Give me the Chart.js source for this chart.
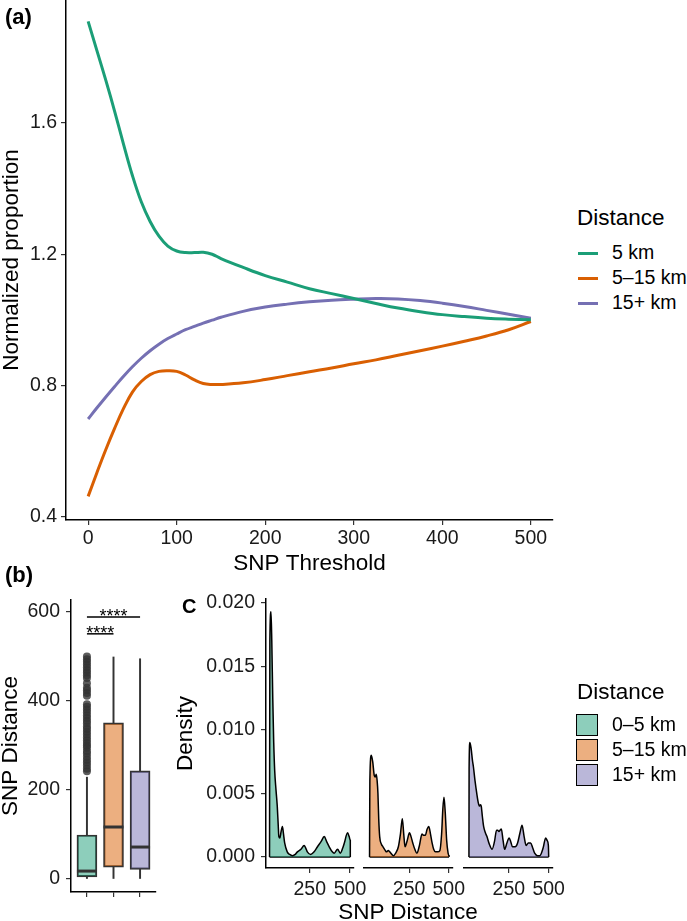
<!DOCTYPE html>
<html>
<head>
<meta charset="utf-8">
<script src="https://cdn.jsdelivr.net/npm/chart.js@4.4.1/dist/chart.umd.min.js"></script>
<style>
  body { margin: 0; background: #fff; overflow: hidden; font-family: "Liberation Sans", Arial, sans-serif; }
  #wrap { position: relative; width: 687px; height: 921px; overflow: hidden; background: #fff; }
  canvas { position: absolute; }
  .tag { position: absolute; font-weight: bold; font-size: 22px; line-height: 1; color: #000; }
  .txt { position: absolute; color: #000; white-space: nowrap; line-height: 1; }
</style>
</head>
<body>
<div id="wrap">
  <canvas id="chartA" width="560" height="580" style="left:0;top:0"></canvas>
  <canvas id="chartB" width="180" height="336" style="left:0;top:585px"></canvas>
  <canvas id="facet1" width="512" height="345" style="left:175px;top:585px"></canvas>
  <canvas id="facet2" width="512" height="345" style="left:175px;top:585px"></canvas>
  <canvas id="facet3" width="512" height="345" style="left:175px;top:585px"></canvas>
  <div class="tag" style="left:5px;top:6px">(a)</div>
  <div class="tag" style="left:5px;top:564px">(b)</div>
  <div class="tag" style="left:182px;top:596px;font-size:20px">C</div>
</div>
<script>
// ---- panel (a): normalized proportion vs SNP threshold ----
const thresholds = [0, 10, 20, 30, 40, 50, 60, 70, 80, 90, 100, 110, 120, 130, 140, 150, 175, 200, 225, 250, 275, 300, 325, 350, 375, 400, 425, 450, 475, 500];
const within5 = [1.91, 1.82, 1.73, 1.635, 1.535, 1.44, 1.36, 1.30, 1.255, 1.225, 1.21, 1.205, 1.205, 1.206, 1.20, 1.187, 1.16, 1.135, 1.115, 1.095, 1.08, 1.065, 1.05, 1.036, 1.025, 1.016, 1.01, 1.005, 1.002, 1.0];
const from5to15 = [0.462, 0.535, 0.605, 0.67, 0.73, 0.78, 0.812, 0.833, 0.843, 0.845, 0.843, 0.832, 0.817, 0.806, 0.803, 0.803, 0.808, 0.818, 0.83, 0.842, 0.853, 0.866, 0.878, 0.892, 0.906, 0.92, 0.935, 0.951, 0.97, 0.995];
const beyond15 = [0.698, 0.732, 0.765, 0.797, 0.828, 0.857, 0.883, 0.906, 0.926, 0.943, 0.957, 0.97, 0.98, 0.99, 0.999, 1.008, 1.026, 1.039, 1.048, 1.055, 1.06, 1.063, 1.065, 1.064, 1.059, 1.051, 1.041, 1.029, 1.017, 1.005];
const lineNames = ['5 km', '5–15 km', '15+ km'];
const lineColors = ['#1b9e77', '#d95f02', '#7570b3'];
const thresholdTicks = [0, 100, 200, 300, 400, 500];
const proportionTicks = [0.4, 0.8, 1.2, 1.6];

// ---- panel (b): SNP distance box plots ----
const groupNames = ['0–5 km', '5–15 km', '15+ km'];
const fillColors = ['rgba(27,158,119,0.5)', 'rgba(217,95,2,0.5)', 'rgba(117,112,179,0.5)'];
const boxMin = [0, 0, 0];
const boxQ1 = [5, 27, 22];
const boxMedian = [18, 117, 72];
const boxQ3 = [99, 351, 243];
const boxMax = [229, 499, 495];
const outliersNear = [242, 248, 255, 262, 268, 275, 282, 288, 295, 300, 306, 312, 318, 325, 331, 337, 343, 350, 356, 362, 368, 375, 381, 387, 393, 412, 418, 424, 430, 440, 452, 458, 464, 470, 476, 482, 488, 494, 500];
const snpTicks = [0, 200, 400, 600];
const sigFrom = [1, 1];
const sigTo = [2, 3];
const sigHeight = [551, 589];
const sigText = ['****', '****'];

// ---- panel (c): density of SNP distance per group ----
const densX1 = [0, 2, 9, 14, 20, 26, 32, 40, 48, 54, 58, 64, 72, 80, 86, 94, 110, 125, 142, 160, 173, 195, 215, 225, 235, 256, 277, 298, 320, 340, 355, 371, 390, 402, 423, 440, 455, 465, 485, 495, 502, 502];
const densY1 = [0, 0.017, 0.0193, 0.017, 0.0125, 0.009, 0.0068, 0.0053, 0.004, 0.0025, 0.0016, 0.0015, 0.002, 0.0024, 0.0019, 0.0011, 0.0004, 0.0002, 0.0001, 0.0002, 0.0004, 0.0006, 0.0009, 0.0007, 0.0004, 0.0002, 0.0004, 0.0008, 0.0012, 0.0016, 0.0012, 0.0008, 0.0004, 0.0003, 0.0006, 0.0003, 0.0007, 0.0011, 0.0019, 0.0016, 0.0013, 0];
const densX2 = [0, 2, 11, 20, 30, 36, 42, 48, 53, 58, 64, 75, 85, 100, 107, 118, 128, 150, 165, 182, 195, 207, 216, 224, 238, 252, 262, 273, 286, 299, 315, 331, 342, 352, 364, 374, 385, 395, 405, 416, 430, 444, 455, 463, 470, 478, 487, 496, 502, 502];
const densY2 = [0, 0.006, 0.008, 0.0075, 0.0064, 0.0063, 0.0065, 0.006, 0.005, 0.003, 0.0016, 0.001, 0.0008, 0.0005, 0.0004, 0.0005, 0.0004, 0.0001, 0.0003, 0.0008, 0.0018, 0.003, 0.0018, 0.0008, 0.0013, 0.0019, 0.0016, 0.0011, 0.0006, 0.0003, 0.0009, 0.0018, 0.0017, 0.0017, 0.0022, 0.0024, 0.0018, 0.0011, 0.0006, 0.0004, 0.0004, 0.0005, 0.0018, 0.0038, 0.0047, 0.0035, 0.0013, 0.0003, 0.0001, 0];
const densX3 = [0, 1, 6, 14, 22, 28, 38, 49, 58, 66, 72, 77, 84, 92, 103, 113, 128, 145, 160, 173, 180, 188, 195, 203, 214, 224, 238, 252, 262, 273, 290, 305, 320, 333, 346, 359, 372, 387, 400, 412, 430, 444, 465, 481, 490, 498, 500];
const densY3 = [0, 0.007, 0.009, 0.0085, 0.0076, 0.0071, 0.006, 0.005, 0.0043, 0.004, 0.0041, 0.004, 0.0032, 0.0024, 0.0019, 0.0016, 0.001, 0.0006, 0.0012, 0.0021, 0.0021, 0.002, 0.0021, 0.0022, 0.0013, 0.0006, 0.0011, 0.0015, 0.0012, 0.0008, 0.0008, 0.0011, 0.0019, 0.0025, 0.0016, 0.0009, 0.0011, 0.0011, 0.0007, 0.0003, 0.0001, 0.0001, 0.0007, 0.0015, 0.0013, 0.0009, 0];
const densityTicks = [0, 0.005, 0.01, 0.015, 0.02];
const distanceTicks = [250, 500];

Chart.defaults.font.family = '"Liberation Sans", Arial, sans-serif';
Chart.defaults.color = '#1a1a1a';
Chart.defaults.animation = false;
Chart.defaults.responsive = false;
Chart.defaults.devicePixelRatio = 1;
Chart.defaults.plugins.legend.display = false;
Chart.defaults.plugins.tooltip.enabled = false;

const tickFont = { size: 19.5 };
const titleFont = { size: 22.5, lineHeight: 1 };

function axis(opts) {
  return {
    type: 'linear',
    min: opts.min, max: opts.max,
    display: opts.display !== false,
    offset: false,
    afterBuildTicks: s => { s.ticks = opts.ticks.map(v => ({ value: v })); },
    afterFit: s => {
      if (opts.width != null) s.width = opts.width;
      if (opts.height != null) s.height = opts.height;
      s.paddingTop = 0; s.paddingBottom = 0; s.paddingLeft = 0; s.paddingRight = 0;
    },
    grid: { offset: false, drawOnChartArea: false, drawTicks: true, tickLength: 5, color: '#333', lineWidth: 1.2 },
    border: { display: true, color: '#000', width: 1.5 },
    ticks: { font: tickFont, color: '#1a1a1a', padding: opts.pad, display: opts.labels !== false,
             callback: opts.fmt || (v => v), maxRotation: 0, autoSkip: false },
    title: opts.title ? { display: true, text: opts.title, font: titleFont, color: '#000', padding: opts.titlePad || 0 } : { display: false }
  };
}

// panel (a)
new Chart(document.getElementById('chartA'), {
  type: 'line',
  data: {
    datasets: [within5, from5to15, beyond15].map((vals, i) => ({
      label: lineNames[i],
      data: thresholds.map((t, j) => ({ x: t, y: vals[j] })),
      borderColor: lineColors[i], borderWidth: 3, pointRadius: 0,
      tension: 0.4, fill: false
    }))
  },
  options: {
    layout: { padding: { top: 0, right: 7, left: 0, bottom: 0 } },
    scales: {
      x: axis({ min: -25, max: 525, ticks: thresholdTicks, height: 60, pad: 2, title: 'SNP Threshold', titlePad: { top: 0, bottom: 5 } }),
      y: axis({ min: 0.39, max: 1.975, ticks: proportionTicks, width: 66, pad: 4, fmt: v => v.toFixed(1), title: 'Normalized proportion', titlePad: { top: 1, bottom: 0 } })
    }
  }
});

// panel (b)
const boxExtras = {
  id: 'boxExtras',
  afterDatasetsDraw(chart) {
    const { ctx, scales: { x, y } } = chart;
    ctx.save();
    ctx.strokeStyle = '#333';
    ctx.lineWidth = 3;
    boxMedian.forEach((m, i) => {
      const cx = x.getPixelForValue(i + 1);
      const py = y.getPixelForValue(m);
      ctx.beginPath(); ctx.moveTo(cx - 10, py); ctx.lineTo(cx + 10, py); ctx.stroke();
    });
    ctx.fillStyle = '#000';
    ctx.font = '18px "Liberation Sans", Arial, sans-serif';
    ctx.textAlign = 'center';
    ctx.textBaseline = 'alphabetic';
    sigText.forEach((t, i) => {
      const cx = x.getPixelForValue((sigFrom[i] + sigTo[i]) / 2);
      ctx.fillText(t, cx, y.getPixelForValue(sigHeight[i]) + 5);
    });
    ctx.restore();
  }
};
const whiskers = [];
groupNames.forEach((g, i) => {
  whiskers.push({ x: i + 1, y: [boxMin[i], boxQ1[i]] });
  whiskers.push({ x: i + 1, y: [boxQ3[i], boxMax[i]] });
});
new Chart(document.getElementById('chartB'), {
  type: 'bar',
  data: {
    datasets: [
      { type: 'bar', label: 'whiskers', data: whiskers, backgroundColor: '#333', borderWidth: 0, barThickness: 1.3, grouped: false, order: 3 },
      { type: 'bar', label: 'boxes', data: groupNames.map((g, i) => ({ x: i + 1, y: [boxQ1[i], boxQ3[i]] })),
        backgroundColor: fillColors, borderColor: '#333', borderWidth: 1.5, borderSkipped: false, barThickness: 20, grouped: false, order: 2 },
      { type: 'scatter', label: 'outliers', data: outliersNear.map(v => ({ x: 1, y: v })),
        backgroundColor: 'rgba(51,51,51,0.8)', borderWidth: 0, pointRadius: 4, order: 1 },
      ...sigHeight.map((h, i) => ({ type: 'line', label: 'sig' + i, data: [{ x: sigFrom[i], y: h }, { x: sigTo[i], y: h }],
        borderColor: '#000', borderWidth: 1.5, pointRadius: 0, order: 0 }))
    ]
  },
  options: {
    layout: { padding: { top: 15, right: 24, left: 0, bottom: 0 } },
    scales: {
      x: axis({ min: 0.4, max: 3.6, ticks: [1, 2, 3], height: 29, pad: 0, labels: false }),
      y: axis({ min: -29, max: 627, ticks: snpTicks, width: 71, pad: 6, title: 'SNP Distance', titlePad: 0 })
    }
  },
  plugins: [boxExtras]
});

// panel (c)
const facets = [
  { id: 'facet1', xs: densX1, ys: densY1, min: -22, max: 525, left: 0, right: 333, showY: true },
  { id: 'facet2', xs: densX2, ys: densY2, min: -35, max: 527, left: 189, right: 234, showY: false },
  { id: 'facet3', xs: densX3, ys: densY3, min: -31, max: 527, left: 289, right: 134, showY: false }
];
facets.forEach((f, i) => {
  const xMax = f.xs[f.xs.length - 1];
  new Chart(document.getElementById(f.id), {
    type: 'line',
    data: {
      datasets: [
        { data: f.xs.map((v, j) => ({ x: v, y: f.ys[j] })), borderColor: '#000', borderWidth: 1.5, pointRadius: 0,
          backgroundColor: fillColors[i], fill: 'origin', cubicInterpolationMode: 'monotone' },
        { data: [{ x: f.xs[0], y: 0 }, { x: xMax, y: 0 }], borderColor: '#000', borderWidth: 1.5, pointRadius: 0, fill: false }
      ]
    },
    options: {
      layout: { padding: { top: 14, right: f.right, left: f.showY ? 0 : f.left, bottom: 0 } },
      scales: {
        x: axis({ min: f.min, max: f.max, ticks: distanceTicks, height: 62, pad: 5 }),
        y: axis({ min: -0.00087, max: 0.0203, ticks: densityTicks, width: f.showY ? 91 : null, pad: 6, display: f.showY, fmt: v => v.toFixed(3), title: f.showY ? 'Density' : null, titlePad: 0 })
      }
    }
  });
});

// legends and shared facet title (HTML text)
const wrap = document.getElementById('wrap');
function addText(text, left, cy, size, center) {
  const d = document.createElement('div');
  d.className = 'txt';
  d.textContent = text;
  d.style.left = left + 'px';
  d.style.fontSize = size + 'px';
  d.style.top = (cy - size / 2) + 'px';
  if (center) d.style.transform = 'translateX(-50%)';
  wrap.appendChild(d);
}
function addBox(left, top, w, h, style) {
  const d = document.createElement('div');
  d.style.cssText = 'position:absolute;left:' + left + 'px;top:' + top + 'px;width:' + w + 'px;height:' + h + 'px;' + style;
  wrap.appendChild(d);
}
addText('SNP Distance', 408, 912, 22.5, true);
addText('Distance', 577, 218, 22.5);
lineNames.forEach((n, i) => {
  const cy = 253 + i * 25;
  addBox(578, cy - 1.5, 20, 3, 'background:' + lineColors[i]);
  addText(n, 612, cy, 19.5);
});
addText('Distance', 577, 692, 22.5);
groupNames.forEach((n, i) => {
  const cy = 725 + i * 25;
  addBox(576, cy - 11.5, 20, 20, 'background:' + fillColors[i] + ';border:1.5px solid #000');
  addText(n, 612, cy, 19.5);
});
</script>
</body>
</html>
